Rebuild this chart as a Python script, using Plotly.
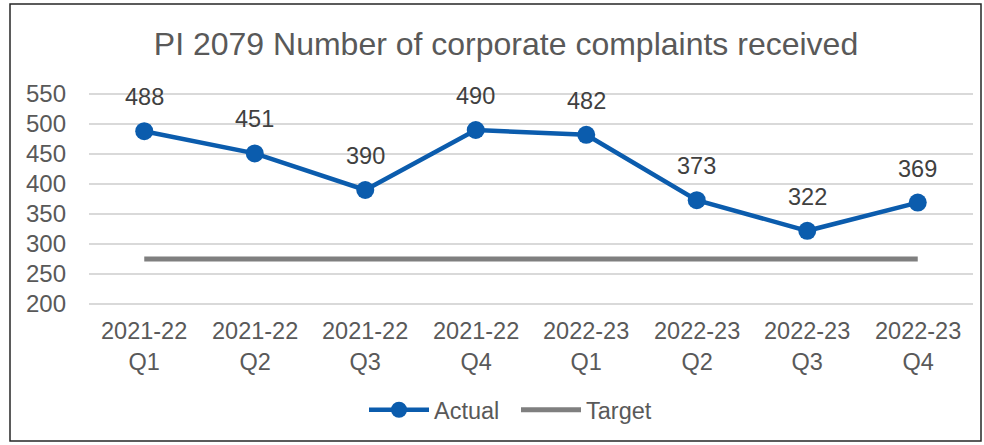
import plotly.graph_objects as go

years = ["2021-22", "2021-22", "2021-22", "2021-22", "2022-23", "2022-23", "2022-23", "2022-23"]
quarters = ["Q1", "Q2", "Q3", "Q4", "Q1", "Q2", "Q3", "Q4"]
categories = [f"{y} {q}" for y, q in zip(years, quarters)]
actual = [488, 451, 390, 490, 482, 373, 322, 369]
target = [275, 275, 275, 275, 275, 275, 275, 275]
y_ticks = [200, 250, 300, 350, 400, 450, 500, 550]

blue = "#0B5CAD"
grey = "#7F7F7F"
txt = "#595959"
font = "Liberation Sans, Arial, sans-serif"
fs = 23.5

fig = go.Figure()
fig.add_trace(go.Scatter(x=categories, y=target, mode="lines", name="Target",
                         line=dict(color=grey, width=5)))
fig.add_trace(go.Scatter(x=categories, y=actual, mode="lines+markers", name="Actual",
                         line=dict(color=blue, width=4.5),
                         marker=dict(color=blue, size=18)))

for c, v in zip(categories, actual):
    fig.add_annotation(x=c, y=v, text=str(v), showarrow=False, yshift=34,
                       font=dict(size=fs, color="#404040", family=font))

L, R, T, B = 89, 973, 92, 306
W, H = 984, 445
pw, ph = R - L, B - T
ypad = 2 / 0.6  # 2px of padding in data units

for c, yr, q in zip(categories, years, quarters):
    fig.add_annotation(x=c, y=0, yref="paper", text=f"{yr}<br>{q}", showarrow=False,
                       yanchor="middle", yshift=-(346 - B), align="center",
                       font=dict(size=fs, color=txt, family=font))

fig.add_shape(type="rect", xref="paper", yref="paper",
              x0=(10 - L) / pw, x1=(981 - L) / pw,
              y0=(B - 441) / ph, y1=(B - 4) / ph,
              line=dict(color="#262626", width=1.5), fillcolor="rgba(0,0,0,0)", layer="below")

fig.update_layout(
    width=W, height=H,
    margin=dict(l=L, r=W - R, t=T, b=H - B, autoexpand=False),
    paper_bgcolor="white", plot_bgcolor="white",
    title=dict(text="PI 2079 Number of corporate complaints received", x=506 / W, xref="container",
               xanchor="center", y=1 - 44 / H, yanchor="middle",
               font=dict(size=32, color=txt, family=font)),
    font=dict(family=font, color=txt, size=fs),
    legend=dict(orientation="h", x=(364 - L) / pw, xanchor="left", xref="paper",
                y=(B - 410) / ph, yanchor="middle", traceorder="reversed",
                entrywidth=77, entrywidthmode="pixels", itemwidth=60,
                font=dict(size=fs, color=txt)),
    xaxis=dict(type="category", range=[-0.5, 7.5], showgrid=False, showline=False,
               ticks="", showticklabels=False),
    yaxis=dict(range=[200 - ypad, 550 + ypad], tickvals=y_ticks, showgrid=True, gridcolor="#D9D9D9",
               gridwidth=1.5, zeroline=False, showline=False, ticks="",
               tickfont=dict(size=24, color=txt), ticklabelstandoff=22),
)

fig.write_html("out.html", config={"displayModeBar": False},
               post_script="document.body.style.margin='0';")
